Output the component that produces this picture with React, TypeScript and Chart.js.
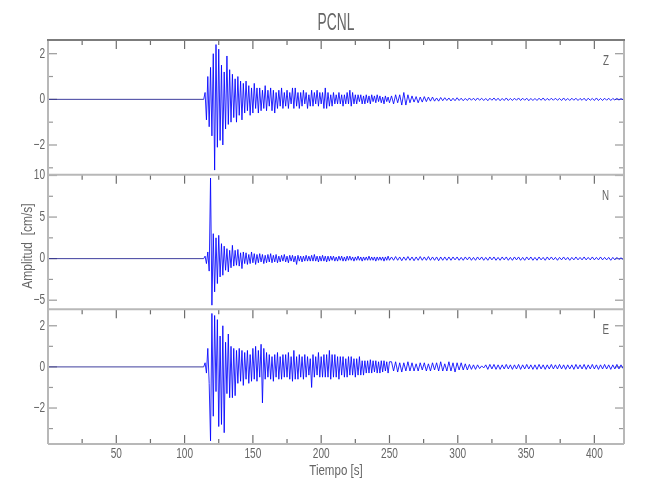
import React, { useEffect, useRef } from "react";
import { Chart, registerables } from "chart.js";

Chart.register(...registerables);

// ---------- data ----------
const STATION = "PCNL";
const X_TITLE = "Tiempo [s]";
const Y_TITLE = "Amplitud  [cm/s]";
const COMPONENTS = ["Z", "N", "E"];

const T_MIN = 0;
const T_MAX = 421.7;
const X_TICKS = [50, 100, 150, 200, 250, 300, 350, 400];
const X_MINOR = [25, 75, 125, 175, 225, 275, 325, 375];

const Z_RANGE = [-3.3, 2.6];
const N_RANGE = [-6.1, 10.1];
const E_RANGE = [-3.75, 2.8];
const Z_TICKS = [-2, 0, 2];
const N_TICKS = [-5, 0, 5, 10];
const E_TICKS = [-2, 0, 2];
const Z_MINOR = [-3, -1, 1];
const N_MINOR = [-2.5, 2.5, 7.5];
const E_MINOR = [-3, -1, 1];

// sample clock of the traces: flat before ONSET, 1 s samples to 250 s, 1.5 s samples after
const ONSET = 114;
const STEP_A = 1;
const START_B = 251.5;
const STEP_B = 1.5;

const zA = [
  0, 0.3, -0.9, 1.0, -1.2, 1.4, -1.6, 2.0, -3.1, 2.4,
  -2.1, 2.2, -1.8, 1.5, -2.0, 1.2, -1.3, 1.9, -1.1, 1.3,
  -1.0, 1.1, -0.8, 0.9, -1.0, 1.0, -0.7, 0.8, -0.9, 0.7,
  -0.6, 0.8, -0.5, 0.6, -0.7, 0.5, -0.6, 0.7, -0.4, 0.5,
  -0.6, 0.5, -0.5, 0.4, -0.4, 0.6, -0.5, 0.4, -0.3, 0.5,
  -0.5, 0.4, -0.6, 0.3, -0.4, 0.4, -0.3, 0.5, -0.4, 0.3,
  -0.3, 0.4, -0.4, 0.3, -0.2, 0.5, -0.4, 0.5, -0.3, 0.3,
  -0.4, 0.3, -0.3, 0.4, -0.2, 0.3, -0.4, 0.2, -0.3, 0.4,
  -0.3, 0.3, -0.2, 0.4, -0.3, 0.3, -0.2, 0.3, -0.4, 0.5,
  -0.4, 0.3, -0.3, 0.2, -0.3, 0.3, -0.2, 0.2, -0.2, 0.3,
  -0.2, 0.2, -0.3, 0.2, -0.2, 0.3, -0.2, 0.4, -0.3, 0.3,
  -0.2, 0.2, -0.2, 0.2, -0.1, 0.2, -0.2, 0.15, -0.2, 0.2,
  -0.15, 0.15, -0.2, 0.2, -0.1, 0.15, -0.15, 0.2, -0.1, 0.15,
  -0.15, 0.1, -0.2, 0.15, -0.1, 0.1, -0.15,
];
const zB = [
  0.15, -0.2, 0.2, -0.15, 0.2, -0.25, 0.3, -0.25, 0.2, -0.15,
  0.15, -0.12, 0.12, -0.15, 0.1, -0.12, 0.12, -0.1, 0.1, -0.08,
  0.1, -0.08, 0.06, -0.08, 0.08, -0.06, 0.07, -0.05, 0.06, -0.07,
  0.05, -0.06, 0.07, -0.05, 0.05, -0.06, 0.04, -0.05, 0.06, -0.04,
  0.05, -0.05, 0.06, -0.04, 0.05, -0.05, 0.04, -0.06, 0.05, -0.04,
  0.06, -0.05, 0.05, -0.06, 0.04, -0.05, 0.06, -0.05, 0.04, -0.05,
  0.05, -0.04, 0.06, -0.05, 0.05, -0.04, 0.05, -0.06, 0.04, -0.05,
  0.04, -0.05, 0.05, -0.04, 0.06, -0.05, 0.04, -0.04, 0.05, -0.04,
  0.05, -0.04, 0.04, -0.05, 0.06, -0.05, 0.04, -0.05, 0.05, -0.04,
  0.05, -0.05, 0.04, -0.04, 0.05, -0.06, 0.05, -0.04, 0.04, -0.05,
  0.06, -0.05, 0.04, -0.05, 0.05, -0.04, 0.05, -0.05, 0.04, -0.03,
  0.04, -0.03, 0.03, -0.02,
];

const nA = [
  0, 0.3, -0.6, 0.8, -1.5, 9.7, -5.6, 3.0, -4.0, 2.5,
  -3.0, 2.8, -2.2, 1.8, -2.0, 1.5, -1.4, 1.2, -1.6, 1.0,
  -1.1, 1.6, -0.9, 1.0, -0.8, 1.1, -0.9, 0.7, -1.2, 0.8,
  -0.6, 0.7, -0.7, 0.5, -0.6, 0.8, -0.5, 0.6, -0.7, 0.5,
  -0.5, 0.6, -0.4, 0.5, -0.6, 0.4, -0.5, 0.5, -0.4, 0.6,
  -0.5, 0.4, -0.4, 0.5, -0.5, 0.3, -0.4, 0.4, -0.3, 0.5,
  -0.4, 0.3, -0.5, 0.4, -0.3, 0.4, -0.4, 0.3, -0.7, 0.4,
  -0.3, 0.3, -0.4, 0.3, -0.3, 0.4, -0.3, 0.3, -0.3, 0.4,
  -0.3, 0.5, -0.3, 0.3, -0.4, 0.3, -0.3, 0.4, -0.3, 0.3,
  -0.4, 0.3, -0.3, 0.3, -0.2, 0.3, -0.3, 0.2, -0.3, 0.3,
  -0.2, 0.3, -0.3, 0.2, -0.3, 0.3, -0.2, 0.3, -0.2, 0.2,
  -0.3, 0.2, -0.2, 0.3, -0.2, 0.2, -0.3, 0.2, -0.2, 0.2,
  -0.2, 0.3, -0.2, 0.2, -0.2, 0.2, -0.3, 0.2, -0.2, 0.2,
  -0.2, 0.2, -0.3, 0.2, -0.2, 0.3, -0.2,
];
const nB = [
  0.2, -0.2, 0.25, -0.2, 0.2, -0.25, 0.2, -0.2, 0.25, -0.2,
  0.2, -0.25, 0.2, -0.2, 0.25, -0.2, 0.2, -0.2, 0.25, -0.2,
  0.2, -0.2, 0.2, -0.25, 0.2, -0.2, 0.2, -0.2, 0.2, -0.2,
  0.2, -0.15, 0.2, -0.2, 0.15, -0.2, 0.2, -0.15, 0.2, -0.2,
  0.15, -0.2, 0.2, -0.15, 0.2, -0.2, 0.15, -0.2, 0.2, -0.15,
  0.2, -0.2, 0.15, -0.2, 0.2, -0.15, 0.2, -0.2, 0.15, -0.2,
  0.2, -0.15, 0.2, -0.2, 0.15, -0.2, 0.2, -0.15, 0.2, -0.2,
  0.15, -0.2, 0.2, -0.15, 0.15, -0.2, 0.2, -0.15, 0.2, -0.15,
  0.15, -0.2, 0.15, -0.15, 0.2, -0.15, 0.15, -0.2, 0.15, -0.15,
  0.2, -0.15, 0.15, -0.15, 0.2, -0.15, 0.15, -0.15, 0.2, -0.15,
  0.15, -0.15, 0.2, -0.15, 0.15, -0.15, 0.15, -0.2, 0.15, -0.15,
  0.15, -0.1, 0.1, -0.1,
];

const eA = [
  0, 0.2, -0.3, 0.9, -0.8, -3.6, 2.6, -2.4, 2.5, -1.2,
  2.3, -2.9, 1.5, -2.8, 2.0, -3.2, 1.2, -1.3, 1.6, -1.5,
  1.0, -1.5, 0.9, -1.4, 0.8, -0.8, 0.9, -0.7, 0.8, -0.9,
  0.7, -0.6, 0.8, -0.8, 0.6, -0.7, 0.9, -0.6, 1.0, -0.7,
  0.8, -0.5, 1.1, -1.75, 0.9, -0.6, 0.7, -0.5, 0.6, -0.6,
  0.5, -0.7, 0.6, -0.5, 0.7, -0.6, 0.5, -0.6, 0.6, -0.5,
  0.6, -0.5, 0.7, -0.6, 0.5, -0.7, 0.8, -0.6, 0.5, -0.6,
  0.6, -0.5, 0.5, -0.6, 0.6, -0.5, 0.5, -0.4, 0.4, -1.0,
  0.6, -0.5, 0.5, -0.4, 0.7, -0.5, 0.5, -0.5, 0.6, -0.5,
  0.6, -0.5, 0.8, -0.6, 0.6, -0.5, 0.6, -0.5, 0.5, -0.6,
  0.5, -0.4, 0.5, -0.5, 0.4, -0.5, 0.5, -0.4, 0.5, -0.4,
  0.4, -0.5, 0.4, -0.4, 0.5, -0.4, 0.3, -0.4, 0.3, -0.3,
  0.3, -0.3, 0.35, -0.3, 0.3, -0.25, 0.3, -0.3, 0.25, -0.3,
  0.3, -0.25, 0.3, -0.2, 0.25, -0.3, 0.25,
];
const eB = [
  0.25, -0.2, 0.25, -0.25, 0.2, -0.25, 0.2, -0.2, 0.25, -0.2,
  0.2, -0.2, 0.15, -0.2, 0.2, -0.15, 0.2, -0.2, 0.15, -0.2,
  0.2, -0.15, 0.2, -0.2, 0.25, -0.2, 0.15, -0.2, 0.25, -0.2,
  0.2, -0.25, 0.2, -0.15, 0.2, -0.15, 0.15, -0.15, 0.12, -0.12,
  0.1, -0.12, 0.1, -0.08, 0.05, -0.05, 0.1, -0.12, 0.12, -0.1,
  0.12, -0.12, 0.1, -0.12, 0.1, -0.1, 0.12, -0.1, 0.1, -0.12,
  0.1, -0.1, 0.12, -0.12, 0.1, -0.1, 0.12, -0.1, 0.1, -0.12,
  0.1, -0.12, 0.12, -0.1, 0.1, -0.12, 0.1, -0.1, 0.12, -0.1,
  0.1, -0.1, 0.12, -0.1, 0.1, -0.12, 0.1, -0.1, 0.1, -0.12,
  0.12, -0.1, 0.1, -0.1, 0.12, -0.12, 0.1, -0.1, 0.12, -0.1,
  0.1, -0.12, 0.1, -0.1, 0.12, -0.1, 0.1, -0.12, 0.1, -0.1,
  0.12, -0.1, 0.1, -0.08,
];

// ---------- helpers ----------
function trace(a: number[], b: number[]) {
  const pts: { x: number; y: number }[] = [{ x: T_MIN, y: 0 }];
  a.forEach((v, i) => pts.push({ x: ONSET + i * STEP_A, y: v }));
  b.forEach((v, i) => pts.push({ x: START_B + i * STEP_B, y: v }));
  return pts;
}

const FONT = "'Liberation Sans', 'DejaVu Sans', Arial, sans-serif";
const TEXT_COLOR = "#666666";

function condensedText(
  ctx: CanvasRenderingContext2D,
  text: string,
  x: number,
  y: number,
  size: number,
  squeeze: number,
  align: CanvasTextAlign,
  rotate = false
) {
  ctx.save();
  ctx.translate(x, y);
  if (rotate) ctx.rotate(-Math.PI / 2);
  ctx.scale(squeeze, 1);
  ctx.font = `${size}px ${FONT}`;
  ctx.fillStyle = TEXT_COLOR;
  ctx.textAlign = align;
  ctx.textBaseline = "middle";
  ctx.fillText(text, 0, 0);
  ctx.restore();
}

function seg(ctx: CanvasRenderingContext2D, x1: number, y1: number, x2: number, y2: number) {
  ctx.beginPath();
  ctx.moveTo(x1, y1);
  ctx.lineTo(x2, y2);
  ctx.stroke();
}

function panelsOf(chart: any) {
  return [
    { s: chart.scales.yZ, minor: Z_MINOR, label: COMPONENTS[0] },
    { s: chart.scales.yN, minor: N_MINOR, label: COMPONENTS[1] },
    { s: chart.scales.yE, minor: E_MINOR, label: COMPONENTS[2] },
  ];
}

const framePlugin = {
  id: "seisFrame",
  beforeDatasetsDraw(chart: any) {
    const { ctx, chartArea } = chart;
    const xs = chart.scales.x;
    const L = chartArea.left;
    const R = chartArea.right;
    const bottom = chartArea.bottom;
    ctx.save();
    ctx.lineCap = "butt";
    panelsOf(chart).forEach((p) => {
      const top = p.s.top;
      ctx.strokeStyle = "#6e6e6e";
      ctx.lineWidth = 1.2;
      xs.ticks.forEach((t: any) => {
        const px = xs.getPixelForValue(t.value);
        seg(ctx, px, top, px, top + 9);
      });
      X_MINOR.forEach((v) => {
        const px = xs.getPixelForValue(v);
        seg(ctx, px, top, px, top + 5);
      });
      ctx.strokeStyle = "#9a9a9a";
      p.s.ticks.forEach((t: any) => {
        const py = p.s.getPixelForValue(t.value);
        seg(ctx, L, py, L + 9, py);
        seg(ctx, R, py, R - 9, py);
      });
      p.minor.forEach((v) => {
        const py = p.s.getPixelForValue(v);
        seg(ctx, L, py, L + 5, py);
        seg(ctx, R, py, R - 5, py);
      });
    });
    ctx.strokeStyle = "#6e6e6e";
    xs.ticks.forEach((t: any) => {
      const px = xs.getPixelForValue(t.value);
      seg(ctx, px, bottom, px, bottom - 9);
    });
    X_MINOR.forEach((v) => {
      const px = xs.getPixelForValue(v);
      seg(ctx, px, bottom, px, bottom - 5);
    });
    ctx.restore();
  },
  afterDraw(chart: any) {
    const { ctx, chartArea } = chart;
    const xs = chart.scales.x;
    const panels = panelsOf(chart);
    const L = chartArea.left;
    const R = chartArea.right;
    const bottom = chartArea.bottom;
    ctx.save();
    ctx.lineCap = "butt";

    panels.forEach((p) => {
      p.s.ticks.forEach((t: any) => {
        const py = p.s.getPixelForValue(t.value);
        condensedText(ctx, String(t.value).replace("-", "\u2212"), L - 3, py, 14, 0.72, "right");
      });
      condensedText(ctx, p.label, R - 15, p.s.top + 21, 14, 0.7, "right");
    });
    xs.ticks.forEach((t: any) => {
      const px = xs.getPixelForValue(t.value);
      condensedText(ctx, String(t.value), px, bottom + 10, 14, 0.72, "center");
    });

    // frames
    ctx.lineWidth = 2;
    ctx.strokeStyle = "#b8b8b8";
    seg(ctx, L, chartArea.top, L, bottom);
    seg(ctx, R, chartArea.top, R, bottom);
    seg(ctx, L, bottom, R, bottom);
    panels.slice(1).forEach((p) => seg(ctx, L, p.s.top, R, p.s.top));
    ctx.strokeStyle = "#7c7c7c";
    seg(ctx, L - 1, chartArea.top, R + 1, chartArea.top);

    // titles
    const cx = (L + R) / 2;
    condensedText(ctx, STATION, cx, 23.5, 23, 0.6, "center");
    condensedText(ctx, X_TITLE, cx, 471, 15, 0.77, "center");
    condensedText(ctx, Y_TITLE, 28, 246, 15, 0.8, "center", true);
    ctx.restore();
  },
};

function yScale(range: number[], ticks: number[]) {
  return {
    type: "linear" as const,
    position: "left" as const,
    stack: "panels",
    stackWeight: 1,
    min: range[0],
    max: range[1],
    afterBuildTicks: (s: any) => {
      s.ticks = ticks.map((v) => ({ value: v }));
    },
    afterFit: (s: any) => {
      s.width = 48;
    },
    grid: { display: false },
    border: { display: false },
    ticks: { display: false },
  };
}

export default function App() {
  const ref = useRef<HTMLCanvasElement | null>(null);

  useEffect(() => {
    document.body.style.margin = "0";
    const canvas = ref.current;
    if (!canvas) return;
    const lineStyle = {
      borderColor: "#0000ff",
      borderWidth: 0.85,
      pointRadius: 0,
      tension: 0,
      fill: false,
      segment: {
        borderColor: (c: any) =>
          c.p0.parsed.y === 0 && c.p1.parsed.y === 0 ? "#1c1c8c" : undefined,
      },
    };
    const chart = new Chart(canvas, {
      type: "line",
      data: {
        datasets: [
          { label: COMPONENTS[0], data: trace(zA, zB), yAxisID: "yZ", ...lineStyle },
          { label: COMPONENTS[1], data: trace(nA, nB), yAxisID: "yN", ...lineStyle },
          { label: COMPONENTS[2], data: trace(eA, eB), yAxisID: "yE", ...lineStyle },
        ],
      },
      options: {
        responsive: false,
        animation: false,
        events: [],
        layout: { padding: { top: 40, right: 26, left: 0, bottom: 0 } },
        plugins: {
          legend: { display: false },
          title: { display: false },
          tooltip: { enabled: false },
        },
        scales: {
          x: {
            type: "linear",
            position: "bottom",
            min: T_MIN,
            max: T_MAX,
            afterBuildTicks: (s: any) => {
              s.ticks = X_TICKS.map((v) => ({ value: v }));
            },
            afterFit: (s: any) => {
              s.height = 56;
            },
            grid: { display: false },
            border: { display: false },
            ticks: { display: false },
          },
          yE: yScale(E_RANGE, E_TICKS),
          yN: yScale(N_RANGE, N_TICKS),
          yZ: yScale(Z_RANGE, Z_TICKS),
        },
      } as any,
      plugins: [framePlugin],
    });
    return () => chart.destroy();
  }, []);

  return (
    <div style={{ width: 650, height: 500, background: "#ffffff" }}>
      <canvas ref={ref} width={650} height={500} style={{ display: "block" }} />
    </div>
  );
}
